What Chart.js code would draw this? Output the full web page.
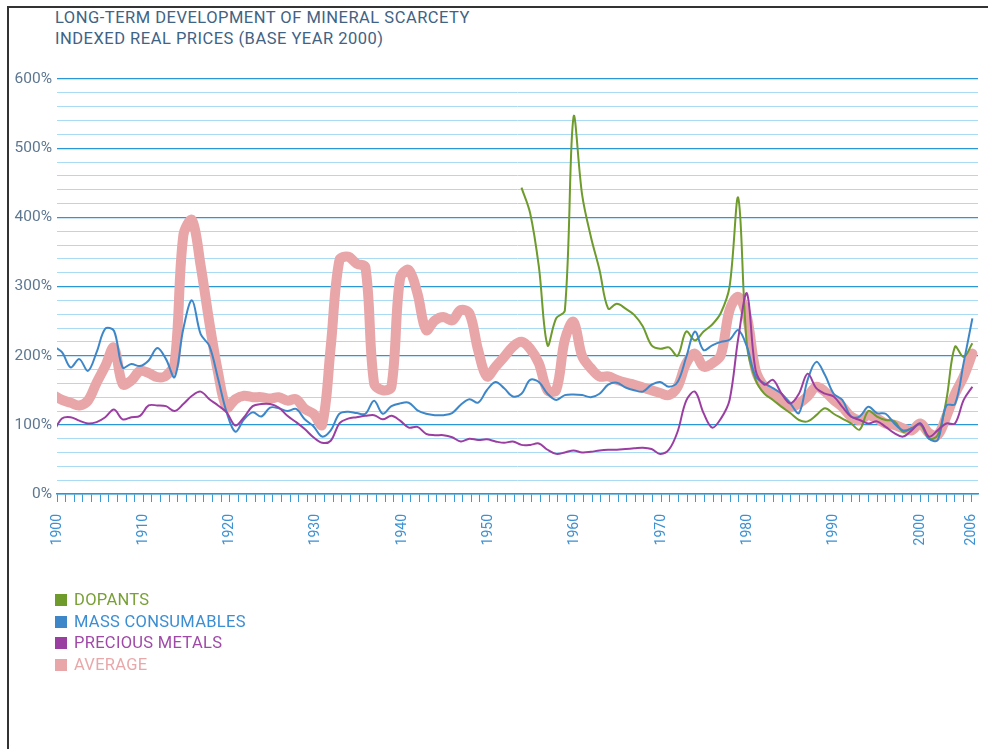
<!DOCTYPE html>
<html>
<head>
<meta charset="utf-8">
<script src="https://cdn.jsdelivr.net/npm/chart.js@4.4.0/dist/chart.umd.min.js"></script>
<style>
html, body { margin: 0; padding: 0; background: #fff; }
body { width: 988px; height: 749px; position: relative; overflow: hidden; font-family: Roboto, sans-serif; }
#frame { position: absolute; left: 7px; top: 6px; width: 981px; height: 743px; border-left: 2px solid #333; border-top: 2px solid #333; box-sizing: border-box; }
#title { position: absolute; left: 55px; top: 7px; color: #3f6384; font-size: 16.5px; line-height: 21px; letter-spacing: 0.5px; }
#chart { position: absolute; left: 0; top: 0; }
#legend { position: absolute; left: 55px; top: 589px; }
.item { height: 21.5px; line-height: 21.5px; font-size: 16.5px; letter-spacing: 0.3px; white-space: nowrap; }
.sw { display: inline-block; width: 12px; height: 12px; margin-right: 7px; vertical-align: -1px; }
</style>
</head>
<body>
<div id="frame"></div>
<div id="title">LONG-TERM DEVELOPMENT OF MINERAL SCARCETY<br>INDEXED REAL PRICES (BASE YEAR 2000)</div>
<canvas id="chart" width="988" height="749"></canvas>
<div id="legend"></div>
<script>
'use strict';

// years 1900..2006, dopants only from 1954
const first_year = 1900;
const dopants_first_year = 1954;
const label_years = [1900, 1910, 1920, 1930, 1940, 1950, 1960, 1970, 1980, 1990, 2000, 2006];

const mass_consumables = [
    214, 205, 183, 195, 178, 205, 239, 236, 183, 188,
    185, 193, 211, 195, 169, 239, 280, 231, 214, 167,
    118, 90, 108, 118, 112, 125, 124, 120, 123, 108,
    98, 83, 92, 116, 119, 117, 116, 135, 116, 127,
    131, 132, 121, 116, 114, 114, 117, 129, 137, 132,
    150, 162, 153, 141, 145, 165, 162, 145, 136, 143,
    144, 143, 140, 145, 158, 161, 154, 150, 148, 158,
    162, 155, 162, 198, 235, 208, 215, 220, 223, 237,
    213, 170, 160, 153, 145, 131, 117, 165, 191, 172,
    145, 136, 112, 112, 126, 117, 116, 102, 92, 95,
    102, 80, 78, 128, 130, 190, 254
];
const precious_metals = [
    89, 109, 111, 106, 102, 104, 111, 122, 108, 111,
    113, 128, 128, 127, 120, 130, 142, 148, 137, 128,
    118, 99, 111, 127, 130, 130, 125, 113, 104, 94,
    82, 74, 77, 102, 109, 111, 113, 114, 108, 113,
    106, 96, 97, 87, 85, 85, 82, 76, 80, 78,
    79, 76, 74, 76, 71, 71, 73, 64, 58, 60,
    63, 60, 61, 63, 64, 64, 65, 66, 67, 65,
    58, 64, 90, 135, 148, 117, 96, 109, 136, 225,
    290, 179, 158, 165, 145, 131, 145, 174, 153, 145,
    141, 126, 112, 107, 102, 105, 97, 88, 83, 92,
    102, 83, 92, 102, 102, 136, 155
];
const average = [
    143, 136, 132, 128, 135, 161, 185, 212, 159, 164,
    178, 175, 169, 171, 190, 374, 396, 330, 248, 176,
    125, 137, 142, 140, 140, 138, 140, 135, 137, 123,
    116, 100, 213, 338, 343, 333, 328, 160, 150, 155,
    312, 324, 290, 237, 251, 256, 251, 266, 261, 208,
    170, 184, 198, 213, 220, 210, 189, 150, 150, 223,
    249, 199, 182, 170, 170, 165, 161, 158, 154, 150,
    146, 143, 155, 189, 203, 184, 189, 201, 266, 285,
    256, 179, 155, 145, 136, 126, 131, 141, 155, 148,
    136, 126, 112, 107, 114, 109, 102, 100, 95, 92,
    102, 88, 85, 112, 145, 170, 203
];
const dopants = [
    443, 406, 329, 215, 254, 265,
    545, 432, 372, 324, 268, 275, 268, 259, 242, 215,
    210, 212, 200, 235, 222, 235, 245, 262, 300, 428,
    215, 165, 145, 136, 126, 117, 107, 105, 114, 124,
    116, 109, 102, 93, 120, 112, 107, 105, 90, 95,
    100, 80, 85, 136, 213, 198, 218
];

const series_names = ['DOPANTS', 'MASS CONSUMABLES', 'PRECIOUS METALS', 'AVERAGE'];
const line_colors = ['#6e9b2c', '#3d87c9', '#9b3ea2', '#e8a6a9'];
const text_colors = ['#78a036', '#3b8ed3', '#a04aa8', '#e8a8aa'];

function to_points(values, start){
    return values.map((v, i) => ({ x: start + i, y: v }));
}

var all_years = mass_consumables.map((v, i) => first_year + i);

var legend = document.getElementById('legend');
series_names.forEach((name, i) => {
    var div = document.createElement('div');
    div.className = 'item';
    div.style.color = text_colors[i];
    div.innerHTML = '<span class="sw" style="background:' + line_colors[i] + '"></span>' + name;
    legend.appendChild(div);
});

const ctx = document.getElementById('chart').getContext('2d');
const chart = new Chart(ctx, {
    type: 'line',
    data: {
        datasets: [
            { label: series_names[0], data: to_points(dopants, dopants_first_year), borderColor: line_colors[0], borderWidth: 2, order: 2, xAxisID: 'xd' },
            { label: series_names[1], data: to_points(mass_consumables, first_year), borderColor: line_colors[1], borderWidth: 2, order: 1, xAxisID: 'xd' },
            { label: series_names[2], data: to_points(precious_metals, first_year), borderColor: line_colors[2], borderWidth: 2, order: 0, xAxisID: 'xd' },
            { label: series_names[3], data: to_points(average, first_year), borderColor: line_colors[3], borderWidth: 10, borderCapStyle: 'round', borderJoinStyle: 'round', order: 5, xAxisID: 'xd' },
        ],
    },
    options: {
        responsive: false,
        animation: false,
        events: [],
        layout: { padding: { left: 0, right: 10, top: 79, bottom: 195 } },
        elements: {
            point: { radius: 0 },
            line: { tension: 0.35, fill: false },
        },
        plugins: {
            legend: { display: false },
            tooltip: { enabled: false },
        },
        scales: {
            // tick/label axis, as printed in the original
            x: {
                type: 'linear',
                position: 'bottom',
                min: 1900,
                max: 2006.7,
                afterBuildTicks: function(axis){
                    axis.ticks = all_years.map(v => ({ value: v }));
                },
                afterFit: function(axis){
                    axis.height = 60;
                    axis.paddingLeft = 0;
                    axis.paddingRight = 0;
                },
                grid: { drawOnChartArea: false, drawTicks: true, tickLength: 8, color: '#3a9ad6', lineWidth: 1 },
                border: { display: true, color: '#2a96d4', width: 1.5 },
                ticks: {
                    autoSkip: false,
                    minRotation: 90,
                    maxRotation: 90,
                    padding: 12,
                    color: '#3b91d2',
                    font: { family: 'Roboto', size: 14 },
                    callback: function(v){ return label_years.includes(v) ? String(v) : ''; },
                },
            },
            // the series sit slightly left of the printed ticks in the original
            xd: {
                type: 'linear',
                display: false,
                min: 1900.43,
                max: 2006.65,
            },
            y: {
                min: 0,
                max: 600,
                afterBuildTicks: function(axis){
                    var t = [];
                    for( var v = 0 ; v <= 600 ; v += 20 ) t.push({ value: v });
                    axis.ticks = t;
                },
                afterFit: function(axis){ axis.width = 57; },
                grid: {
                    drawTicks: false,
                    color: c => (c.tick.value % 100 === 0) ? '#2b98d6' : '#a9dbf2',
                    lineWidth: c => (c.tick.value % 100 === 0) ? 1.3 : 1,
                },
                border: { display: false },
                ticks: {
                    autoSkip: false,
                    padding: 5,
                    color: '#5d7791',
                    font: { family: 'Roboto', size: 15.5 },
                    callback: function(v){ return (v % 100 === 0) ? v + '%' : ''; },
                },
            },
        },
    },
});
</script>
</body>
</html>
